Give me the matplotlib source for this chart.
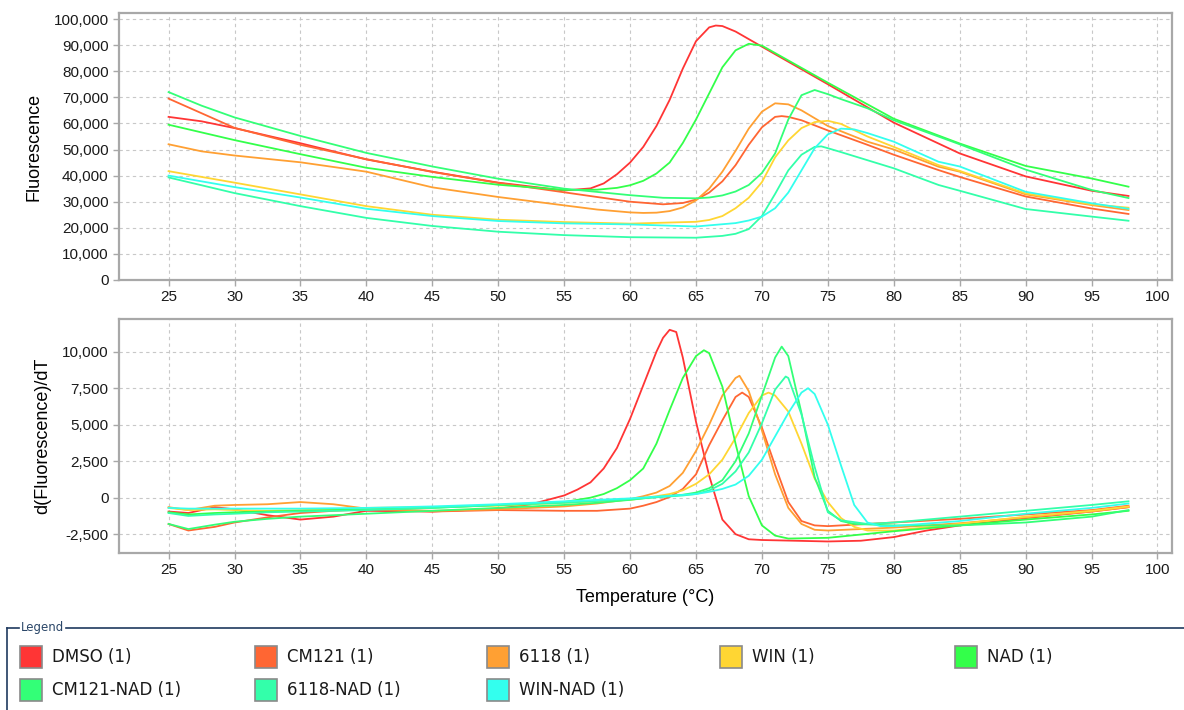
import matplotlib
matplotlib.use("Agg")
import matplotlib.pyplot as plt
from matplotlib.patches import Rectangle
from matplotlib.lines import Line2D
from matplotlib.ticker import MultipleLocator, StrMethodFormatter

# ---- melt curve data ----
labels = ["DMSO (1)", "CM121 (1)", "6118 (1)", "WIN (1)", "NAD (1)",
          "CM121-NAD (1)", "6118-NAD (1)", "WIN-NAD (1)"]
colors = ["#ff3535", "#ff6633", "#ffa033", "#ffd633", "#33ff4a",
          "#33ff77", "#33ffaa", "#33ffee"]

# fluorescence (top panel)
dmso_ft = [25, 27.5, 30, 35, 40, 45, 50, 55, 57, 58, 59, 60, 61, 62, 63, 64, 65, 66, 66.5, 67, 68, 69, 70, 75, 80, 85, 90, 95, 97.8]
dmso_f = [62500, 60800, 58200, 52400, 46200, 41500, 37300, 34300, 35100, 37000, 40500, 45000, 51000, 59000, 69000, 81000, 91500, 96800, 97500, 97300, 95200, 92300, 89400, 75000, 60300, 48500, 39700, 34200, 32200]

cm121_ft = [25, 27.5, 30, 35, 40, 45, 50, 55, 57.5, 60, 62.5, 64, 65, 66, 67, 68, 69, 70, 71, 71.5, 72, 73, 75, 78, 80, 83.4, 85, 90, 95, 97.8]
cm121_f = [69500, 63900, 58300, 51800, 46300, 41400, 37200, 33600, 31800, 30000, 29000, 29500, 30800, 33500, 37800, 44000, 51800, 58500, 62500, 62800, 62500, 61200, 57300, 51800, 48000, 42100, 39500, 32000, 27400, 25300]

c6118_ft = [25, 27.5, 30, 35, 40, 45, 50, 55, 57.5, 60, 61, 62, 63, 64, 65, 66, 67, 68, 69, 70, 71, 72, 73, 75, 78, 80, 83.4, 85, 90, 95, 97.8]
c6118_f = [52000, 49300, 47700, 45100, 41500, 35500, 31800, 28600, 27000, 25900, 25700, 25800, 26400, 27800, 30500, 35000, 41500, 49500, 58000, 64500, 67700, 67300, 65000, 59000, 53000, 50000, 43400, 41500, 32800, 28700, 26800]

win_ft = [25, 30, 35, 40, 45, 50, 55, 60, 65, 66, 67, 68, 69, 70, 71, 72, 73, 74, 75, 76, 78, 80, 83.4, 85, 90, 95, 97.8]
win_f = [41700, 37300, 32800, 28300, 25000, 23100, 22200, 21600, 22300, 23000, 24500, 27500, 31500, 37500, 47000, 53500, 58200, 60500, 61000, 59800, 55000, 51000, 44000, 41800, 33200, 29000, 27700]

nad_ft = [25, 30, 35, 40, 45, 50, 55, 57.5, 59, 60, 61, 62, 63, 64, 65, 66, 67, 68, 69, 70, 75, 80, 85, 90, 95, 97.8]
nad_f = [59500, 53600, 48200, 43000, 39500, 36500, 34500, 34600, 35300, 36300, 38000, 40800, 45000, 52500, 61500, 71500, 81500, 88000, 90500, 89800, 75600, 61800, 52300, 43700, 38900, 35750]

cm121nad_ft = [25, 27.5, 30, 35, 40, 45, 50, 55, 60, 62.5, 65, 66, 67, 68, 69, 70, 71, 72, 73, 74, 75, 76, 78, 80, 85, 90, 95, 97.8]
cm121nad_f = [72000, 66800, 62300, 55200, 48700, 43500, 38800, 35000, 32500, 31500, 31300, 31600, 32400, 33900, 36400, 41000, 48500, 61500, 70800, 72800, 71200, 69300, 65800, 61200, 52000, 42300, 34500, 31400]

c6118nad_ft = [25, 30, 35, 40, 45, 50, 55, 60, 65, 67, 68, 69, 70, 71, 72, 73, 74, 74.5, 75, 76, 78, 80, 83.4, 85, 90, 95, 97.8]
c6118nad_f = [39300, 33300, 28300, 23800, 20700, 18500, 17200, 16400, 16200, 16900, 17700, 19500, 24500, 33000, 42000, 48000, 51000, 51200, 50500, 49000, 45900, 42800, 36400, 34200, 27200, 24300, 22700]

winnad_ft = [25, 30, 35, 40, 45, 50, 55, 60, 65, 68, 69, 70, 71, 72, 73, 74, 75, 76, 77, 78, 80, 83.4, 85, 90, 95, 97.8]
winnad_f = [40000, 35600, 31600, 27300, 24500, 22600, 21700, 21300, 20500, 21800, 22800, 24300, 27500, 33500, 42000, 50500, 55800, 58000, 57700, 56300, 53000, 45300, 43500, 33800, 29400, 27300]

# first derivative (bottom panel)
dmso_dt = [25, 26.5, 28.5, 30, 32.5, 35, 37.5, 40, 45, 50, 52.5, 55, 56, 57, 58, 59, 60, 61, 62, 62.5, 63, 63.5, 64, 65, 66, 67, 68, 69, 70, 75, 77.5, 80, 82.5, 85, 90, 95, 97.8]
dmso_d = [-950, -1050, -650, -800, -1200, -1500, -1300, -900, -950, -750, -450, 150, 550, 1050, 2000, 3400, 5400, 7700, 10000, 10950, 11500, 11350, 9600, 5200, 1500, -1500, -2500, -2850, -2900, -3000, -2950, -2700, -2250, -1900, -1400, -950, -650]

cm121_dt = [25, 26.5, 28.5, 30, 32.5, 35, 37.5, 40, 45, 50, 55, 57.5, 60, 61, 62, 63, 64, 65, 66, 67, 68, 68.5, 69, 70, 71, 72, 73, 74, 75, 80, 85, 90, 95, 97.8]
cm121_d = [-1800, -2250, -2000, -1700, -1350, -1050, -900, -800, -950, -850, -900, -900, -750, -550, -300, 50, 600, 1600, 3600, 5300, 6900, 7200, 6900, 4800, 2200, -300, -1600, -1900, -1950, -1700, -1450, -1150, -850, -550]

c6118_dt = [25, 26.5, 28.5, 30, 32.5, 35, 37.5, 40, 45, 50, 55, 57.5, 60, 61, 62, 63, 64, 65, 66, 67, 68, 68.3, 69, 70, 71, 72, 73, 74, 75, 80, 85, 90, 95, 97.8]
c6118_d = [-650, -850, -550, -500, -450, -300, -450, -750, -900, -800, -600, -400, -100, 100, 350, 800, 1700, 3200, 5000, 7000, 8200, 8350, 7300, 4600, 1600, -700, -1800, -2200, -2250, -2050, -1750, -1350, -950, -650]

win_dt = [25, 26.5, 28.5, 30, 32.5, 35, 37.5, 40, 45, 50, 55, 60, 62, 63, 64, 65, 66, 67, 68, 69, 70, 70.5, 71, 72, 73, 74, 75, 76, 77, 78, 80, 85, 90, 95, 97.8]
win_d = [-700, -850, -800, -850, -900, -850, -800, -700, -650, -550, -350, -150, 100, 250, 500, 950, 1600, 2600, 4100, 5800, 7000, 7200, 7000, 5900, 3700, 1300, -300, -1400, -2000, -2250, -2250, -1800, -1300, -900, -600]

nad_dt = [25, 26.5, 28.5, 30, 35, 40, 45, 50, 55, 57, 58, 59, 60, 61, 62, 63, 64, 65, 65.6, 66, 67, 68, 69, 70, 71, 72, 75, 80, 85, 90, 95, 97.8]
nad_d = [-1000, -1150, -1050, -1000, -900, -800, -700, -500, -300, 0, 250, 650, 1200, 2000, 3700, 6000, 8200, 9700, 10100, 9900, 7600, 3700, 100, -1900, -2600, -2800, -2750, -2300, -1900, -1500, -1150, -900]

cm121nad_dt = [25, 26.5, 28.5, 30, 32.5, 35, 37.5, 40, 45, 50, 55, 57.5, 60, 62, 64, 65, 66, 67, 68, 69, 70, 71, 71.5, 72, 73, 74, 75, 76, 77, 80, 85, 90, 95, 97.8]
cm121nad_d = [-1800, -2150, -1850, -1650, -1450, -1300, -1200, -1100, -900, -700, -500, -350, -150, 50, 200, 350, 650, 1200, 2500, 4400, 7000, 9600, 10350, 9700, 5800, 1400, -900, -1600, -1800, -1900, -1900, -1700, -1300, -850]

c6118nad_dt = [25, 26.5, 28.5, 30, 32.5, 35, 37.5, 40, 45, 50, 55, 60, 64, 65, 66, 67, 68, 69, 70, 71, 71.8, 72, 73, 74, 75, 76, 78, 80, 85, 90, 95, 97.8]
c6118nad_d = [-1050, -1250, -1150, -1100, -1000, -950, -900, -850, -700, -500, -350, -100, 150, 250, 500, 950, 1800, 3100, 5100, 7400, 8300, 8200, 5700, 2100, -1000, -1550, -1800, -1700, -1300, -900, -500, -250]

winnad_dt = [25, 26.5, 28.5, 30, 35, 40, 45, 50, 55, 60, 65, 66, 67, 68, 69, 70, 71, 72, 73, 73.5, 74, 75, 76, 77, 78, 79, 80, 85, 90, 95, 97.8]
winnad_d = [-700, -750, -750, -750, -750, -700, -600, -450, -250, -50, 250, 400, 600, 900, 1500, 2600, 4200, 5800, 7200, 7500, 7100, 5000, 2200, -500, -1700, -1950, -1950, -1600, -1100, -700, -400]

fluor = [(dmso_ft, dmso_f), (cm121_ft, cm121_f), (c6118_ft, c6118_f), (win_ft, win_f),
         (nad_ft, nad_f), (cm121nad_ft, cm121nad_f), (c6118nad_ft, c6118nad_f), (winnad_ft, winnad_f)]
deriv = [(dmso_dt, dmso_d), (cm121_dt, cm121_d), (c6118_dt, c6118_d), (win_dt, win_d),
         (nad_dt, nad_d), (cm121nad_dt, cm121nad_d), (c6118nad_dt, c6118nad_d), (winnad_dt, winnad_d)]

# ---- figure ----
W, H = 1184, 710
plt.rcParams['font.family'] = ['Liberation Sans', 'DejaVu Sans']
plt.rcParams['axes.unicode_minus'] = False
fig = plt.figure(figsize=(W / 100, H / 100), dpi=100)


def rect(x0, y0, x1, y1):
    # pixel box -> figure fraction [left, bottom, width, height]
    return [x0 / W, 1 - y1 / H, (x1 - x0) / W, (y1 - y0) / H]


def style(ax):
    for s in ax.spines.values():
        s.set_color("#a8a8a8")
        s.set_linewidth(1.6)
    ax.grid(True, color="#c8c8c8", linestyle=(0, (3, 3)), linewidth=0.8)
    ax.set_axisbelow(True)
    ax.xaxis.set_major_locator(MultipleLocator(5))
    ax.tick_params(colors="#a8a8a8", labelcolor="#1a1a1a", labelsize=11, length=4, width=1)
    ax.yaxis.set_major_formatter(StrMethodFormatter("{x:,.0f}"))


ax1 = fig.add_axes(rect(119, 13, 1172, 280))
style(ax1)
for (t, v), c in zip(fluor, colors):
    ax1.plot(t, v, color=c, lw=1.3)
ax1.set_ylim(0, 102300)
ax1.yaxis.set_major_locator(MultipleLocator(10000))
ax1.set_xticks(range(25, 101, 5))
ax1.set_xlim(21.24, 101.1)
ax1.set_ylabel("Fluorescence", fontsize=13, labelpad=8)

ax2 = fig.add_axes(rect(119, 319, 1172, 553))
style(ax2)
for (t, v), c in zip(deriv, colors):
    ax2.plot(t, v, color=c, lw=1.3)
ax2.set_ylim(-3790, 12240)
ax2.set_yticks(range(-2500, 10001, 2500))
ax2.set_xticks(range(25, 101, 5))
ax2.set_xlim(21.24, 101.1)
ax2.set_ylabel("d(Fluorescence)/dT", fontsize=13, labelpad=8)
ax2.set_xlabel("Temperature (°C)", fontsize=13, labelpad=8)

# ---- legend panel ----
line_c = "#1f3a5f"
fig.add_artist(Line2D([7 / W, 7 / W], [0, 1 - 628 / H], color=line_c, lw=1.2))
fig.add_artist(Line2D([7 / W, 19 / W], [1 - 628 / H] * 2, color=line_c, lw=1.2))
fig.add_artist(Line2D([66 / W, 1], [1 - 628 / H] * 2, color=line_c, lw=1.2))
fig.text(21 / W, 1 - 628 / H, "Legend", fontsize=8.5, color="#2a4668",
         va="center", ha="left", family="DejaVu Sans")

col_x = [20, 255, 487, 720, 955]
row_y = [657, 690]
for i, (lab, c) in enumerate(zip(labels, colors)):
    x = col_x[i % 5]
    y = row_y[i // 5]
    fig.add_artist(Rectangle((x / W, 1 - (y + 11) / H), 22 / W, 22 / H,
                             facecolor=c, edgecolor="#8a8a8a", lw=1.2,
                             transform=fig.transFigure))
    fig.text((x + 32) / W, 1 - y / H, lab, fontsize=12, va="center", ha="left",
             color="#1a1a1a", family="DejaVu Sans")

fig.savefig("out.png", dpi=100)
